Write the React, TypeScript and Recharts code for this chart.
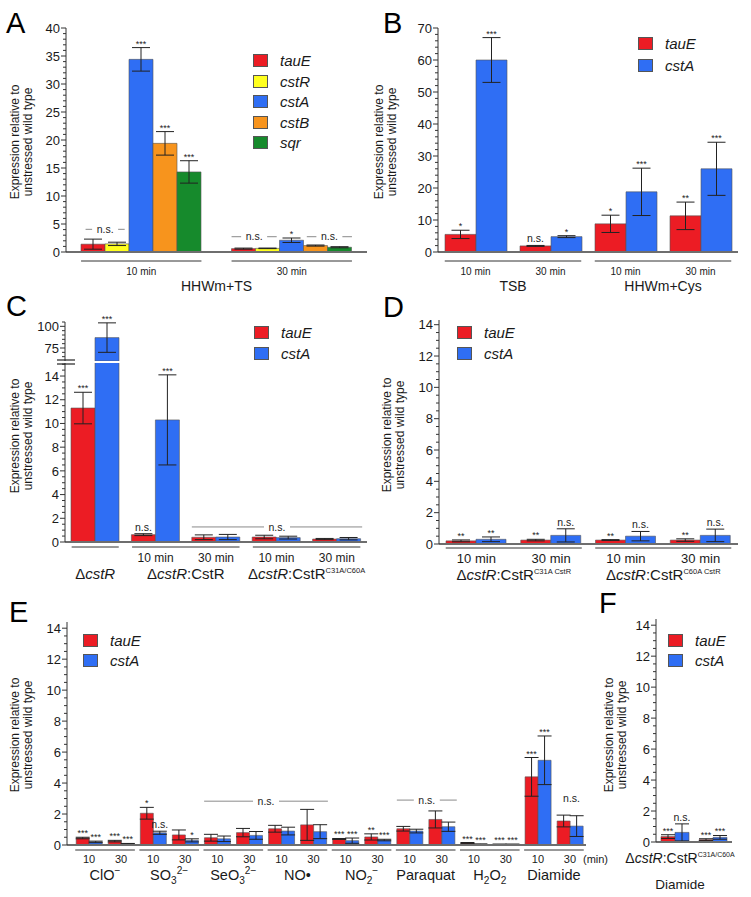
import React from 'react';
import { BarChart, Bar, XAxis, YAxis, ErrorBar, LabelList, Legend, ReferenceLine, Label } from 'recharts';

const FONT = '"Liberation Sans", Arial, Helvetica, sans-serif';
const INK = '#1a1a1a';

const RED = '#ec1c24';
const YELLOW = '#ffff1e';
const BLUE = '#2f6ef4';
const ORANGE = '#f7941d';
const GREEN = '#168a2c';

// ---------- A: HHWm+TS ----------
const aTimes = ['10 min', '30 min'];
const aTauE = [1.4, 0.6];
const aTauEErr = [0.9, 0.1];
const aCstR = [1.45, 0.65];
const aCstRErr = [0.3, 0.05];
const aCstA = [34.4, 2.1];
const aCstAErr = [2.1, 0.4];
const aCstASig = ['***', '*'];
const aCstB = [19.4, 1.15];
const aCstBErr = [2.1, 0.1];
const aCstBSig = ['***', ''];
const aSqr = [14.3, 0.85];
const aSqrErr = [2.0, 0.1];
const aSqrSig = ['***', ''];
const aTicks = [0, 5, 10, 15, 20, 25, 30, 35, 40];

// ---------- B: TSB / HHWm+Cys ----------
const bTimes = ['10 min', '30 min', '10 min', '30 min'];
const bTauE = [5.5, 1.9, 8.8, 11.3];
const bTauEErr = [1.3, 0.15, 2.7, 4.3];
const bTauESig = ['*', 'n.s.', '*', '**'];
const bCstA = [60, 4.8, 18.8, 26];
const bCstAErr = [7, 0.3, 7.4, 8.3];
const bCstASig = ['***', '*', '***', '***'];
const bTicks = [0, 10, 20, 30, 40, 50, 60, 70];

// ---------- C: cstR mutants ----------
const cTimes = ['', '10 min', '30 min', '10 min', '30 min'];
const cTauE = [11.3, 0.62, 0.4, 0.42, 0.25];
const cTauEErr = [1.33, 0.08, 0.2, 0.15, 0.05];
const cTauESig = ['***', 'n.s.', '', '', ''];
const cCstA = [87, 10.3, 0.42, 0.37, 0.28];
const cCstAErr = [17, 3.8, 0.22, 0.12, 0.1];
const cCstASig = ['***', '***', '', '', ''];
const cTicks = [0, 2, 4, 6, 8, 10, 12, 14];
const cTopTicks = [75, 100];

// ---------- D: single Cys mutants ----------
const dTimes = ['10 min', '30 min', '10 min', '30 min'];
const dTauE = [0.2, 0.25, 0.25, 0.25];
const dTauEErr = [0.06, 0.05, 0.03, 0.08];
const dTauESig = ['**', '**', '**', '**'];
const dCstA = [0.3, 0.55, 0.5, 0.55];
const dCstAErr = [0.15, 0.42, 0.3, 0.4];
const dCstASig = ['**', 'n.s.', 'n.s.', 'n.s.'];
const lowTicks = [0, 2, 4, 6, 8, 10, 12, 14];

// ---------- E: other stresses ----------
const eTimes = ['10', '30', '10', '30', '10', '30', '10', '30', '10', '30', '10', '30', '10', '30', '10', '30'];
const eTauE = [0.45, 0.25, 2.05, 0.65, 0.47, 0.8, 1.05, 1.3, 0.39, 0.52, 1.05, 1.65, 0.13, 0.04, 4.4, 1.55];
const eTauEErr = [0.05, 0.05, 0.38, 0.32, 0.22, 0.27, 0.22, 1.0, 0.03, 0.2, 0.15, 0.55, 0.03, 0.02, 1.25, 0.38];
const eTauESig = ['***', '***', '*', '', '', '', '', '', '***', '**', '', '', '***', '***', '***', ''];
const eCstA = [0.2, 0.08, 0.79, 0.3, 0.4, 0.62, 0.9, 0.86, 0.28, 0.32, 0.9, 1.18, 0.05, 0.04, 5.47, 1.22];
const eCstAErr = [0.05, 0.02, 0.1, 0.1, 0.18, 0.25, 0.25, 0.45, 0.17, 0.05, 0.12, 0.3, 0.02, 0.02, 1.57, 0.67];
const eCstASig = ['***', '***', 'n.s.', '*', '', '', '', '', '***', '***', '', '', '***', '***', '***', ''];

// ---------- F: C31A/C60A + diamide ----------
const fTimes = ['', ''];
const fTauE = [0.35, 0.15];
const fTauEErr = [0.12, 0.06];
const fTauESig = ['***', '***'];
const fCstA = [0.62, 0.3];
const fCstAErr = [0.55, 0.12];
const fCstASig = ['n.s.', '***'];

type Seg = { t: string; s?: 'i' | 'sub' | 'sup'; r?: number };
type Series = { key: string; name: string; color: string; values: number[]; errs: number[]; sigs: string[] };
type Span = { start: number; size: number };
type Group = Span & { label: Seg[]; dx?: number; line2?: Seg[]; dy2?: number; size2?: number };
type Note = { x1: number; x2: number; y: number; text: string; line?: boolean };

const none = (n: number) => Array.from({ length: n }, () => '');

const dcstR: Seg[] = [{ t: 'Δ' }, { t: 'cstR', s: 'i' }];
const dcstRCstR: Seg[] = [...dcstR, { t: ':CstR' }];
const supLabel = (t: string): Seg[] => [...dcstRCstR, { t, s: 'sup', r: 0.5 }];

function Rich({ x, y, segs, size }: { x: number; y: number; segs: Seg[]; size: number }) {
  let shift = 0;
  const parts = segs.map((s, k) => {
    const target = s.s === 'sub' ? size * 0.25 : s.s === 'sup' ? -size * 0.4 : 0;
    const dy = target - shift;
    shift = target;
    const small = s.s === 'sub' || s.s === 'sup';
    return (
      <tspan key={k} dy={dy} fontSize={small ? size * (s.r ?? 0.7) : size} fontStyle={s.s === 'i' ? 'italic' : 'normal'}>
        {s.t}
      </tspan>
    );
  });
  return (
    <text x={x} y={y} textAnchor="middle" fontSize={size} fontFamily={FONT} fill={INK}>
      {parts}
    </text>
  );
}

type PanelCfg = {
  box: { left: number; top: number; width: number; height: number };
  plot: { x0: number; x1: number; y0: number; y1: number };
  domain: [number, number];
  major: number[];
  minor: number;
  sub: string[];
  groups: Group[];
  lines: Span[];
  inset: number;
  series: Series[];
  gap: number;
  padL?: number;
  notes?: Note[];
  legend?: { x: number; y: number; row: number };
  title?: { x: number; y: number };
  hideX?: boolean;
  subSize: number;
  groupSize: number;
  subDy: number;
  groupDy: number;
  lineDy: number;
  errW: number;
  after?: string;
  breakAt?: number;
  overOnly?: number;
};

function buildRows(cfg: PanelCfg) {
  const hi = cfg.domain[1];
  return cfg.sub.map((_, i) => {
    const r: any = { cat: `c${i}` };
    cfg.series.forEach((s) => {
      const v = s.values[i];
      const keep = cfg.overOnly !== undefined ? v > cfg.overOnly : v <= hi;
      r[s.key] = cfg.overOnly !== undefined && !keep ? null : v;
      r[`${s.key}_e`] = keep ? s.errs[i] : undefined;
      r[`${s.key}_l`] = keep && s.sigs[i] ? `${s.sigs[i]}|${s.errs[i]}` : undefined;
    });
    return r;
  });
}

function tickList(lo: number, hi: number, step: number) {
  const out: number[] = [];
  for (let v = lo; v <= hi + 1e-9; v += step) out.push(Math.round(v * 1000) / 1000);
  return out;
}

const yTick = (major: number[], axisX: number, breakAt?: number) => (props: any) => {
  const { y, payload } = props;
  const v = payload.value;
  if (breakAt !== undefined && Math.abs(v - breakAt) < 1e-6) {
    return (
      <g>
        <line x1={axisX - 8} x2={axisX + 10} y1={y - 1} y2={y - 1} stroke="#222" strokeWidth={1.2} />
        <line x1={axisX - 8} x2={axisX + 10} y1={y + 3} y2={y + 3} stroke="#222" strokeWidth={1.2} />
      </g>
    );
  }
  const isMajor = major.some((m) => Math.abs(m - v) < 1e-6);
  return (
    <g>
      <line x1={axisX - (isMajor ? 5 : 3)} x2={axisX} y1={y} y2={y} stroke="#333" strokeWidth={1} />
      {isMajor && (
        <text x={axisX - 6} y={y} dy="0.36em" textAnchor="end" fontSize={13} fontFamily={FONT} fill={INK}>
          {v}
        </text>
      )}
    </g>
  );
};

const xTick = (cfg: PanelCfg, catW: number, axisY: number) => (props: any) => {
  const { x, payload } = props;
  const i = Number(String(payload.value).slice(1));
  const out: any[] = [];
  if (cfg.sub[i]) {
    out.push(
      <text key="s" x={x} y={axisY + cfg.subDy} textAnchor="middle" fontSize={cfg.subSize} fontFamily={FONT} fill={INK}>
        {cfg.sub[i]}
      </text>
    );
  }
  cfg.lines
    .filter((l) => l.start === i)
    .forEach((l, k) => {
      const gx0 = x - catW / 2;
      const gx1 = gx0 + l.size * catW;
      out.push(
        <line key={`l${k}`} x1={gx0 + cfg.inset * catW} x2={gx1 - cfg.inset * catW} y1={axisY + cfg.lineDy} y2={axisY + cfg.lineDy} stroke="#333" strokeWidth={1} />
      );
    });
  cfg.groups
    .filter((g) => g.start === i)
    .forEach((g, k) => {
      const cx = x - catW / 2 + (g.size * catW) / 2 + (g.dx ?? 0);
      out.push(<Rich key={`g${k}`} x={cx} y={axisY + cfg.groupDy} segs={g.label} size={cfg.groupSize} />);
      if (g.line2) out.push(<Rich key={`h${k}`} x={cx} y={axisY + (g.dy2 ?? 0)} segs={g.line2} size={g.size2 ?? cfg.groupSize} />);
    });
  if (cfg.after && i === cfg.sub.length - 1) {
    out.push(
      <text key="a" x={x + 13} y={axisY + cfg.subDy} fontSize={cfg.subSize} fontFamily={FONT} fill={INK}>
        {cfg.after}
      </text>
    );
  }
  return <g>{out}</g>;
};

const sigContent = (ppu: number) => (props: any) => {
  const { value } = props;
  if (typeof value !== 'string' || !value) return null;
  const [txt, e] = value.split('|');
  const vb = props.viewBox && props.viewBox.width != null ? props.viewBox : props;
  const x = vb.x + vb.width / 2;
  const top = vb.y - Number(e) * ppu;
  const star = txt.includes('*');
  return (
    <text x={x} y={top - (star ? 1 : 3)} textAnchor="middle" fontSize={star ? 9 : 10.5} fontFamily={FONT} fill="#222">
      {txt}
    </text>
  );
};

const nsContent = (text: string) => (props: any) => {
  const vb = props.viewBox ?? props;
  const cx = (vb.x ?? 0) + (vb.width ?? 0) / 2;
  const cy = vb.y ?? 0;
  const w = text.length * 5 + 6;
  return (
    <g>
      <rect x={cx - w / 2} y={cy - 6} width={w} height={12} fill="#fff" />
      <text x={cx} y={cy} dy="0.35em" textAnchor="middle" fontSize={10.5} fontFamily={FONT} fill="#222">
        {text}
      </text>
    </g>
  );
};

const titleContent = (tx: number, ty: number) => () => (
  <text transform={`translate(${tx},${ty}) rotate(-90)`} textAnchor="middle" fontSize={12} fontFamily={FONT} fill={INK}>
    <tspan x={0} y={0}>Expression relative to</tspan>
    <tspan x={0} y={13}>unstressed wild type</tspan>
  </text>
);

const legendContent = (series: Series[], row: number) => (props: any) => {
  const payload: any[] = props.payload ?? [];
  return (
    <div style={{ fontFamily: FONT }}>
      {series.map((s) => {
        const p = payload.find((q) => q.value === s.name);
        return (
          <div key={s.key} style={{ display: 'flex', alignItems: 'center', height: row }}>
            <span
              style={{
                display: 'inline-block',
                width: 15,
                height: 13,
                background: p?.color ?? s.color,
                border: '1px solid #555',
                boxSizing: 'border-box',
                marginRight: 12,
              }}
            />
            <span style={{ fontStyle: 'italic', fontSize: 15, color: INK }}>{p?.value ?? s.name}</span>
          </div>
        );
      })}
    </div>
  );
};

function Panel({ cfg }: { cfg: PanelCfg }) {
  const { box, plot } = cfg;
  const [lo, hi] = cfg.domain;
  const ppu = (plot.y1 - plot.y0) / (hi - lo);
  const padL = cfg.padL ?? 0;
  const n = cfg.sub.length;
  const catW = (plot.x1 - plot.x0 - padL) / n;
  const axisX = plot.x0 - box.left;
  const axisY = plot.y1 - box.top;
  const xH = cfg.hideX ? 0 : 40;
  const margin = {
    top: plot.y0 - box.top,
    left: 0,
    right: box.left + box.width - plot.x1,
    bottom: box.top + box.height - plot.y1 - xH,
  };
  const rows = buildRows(cfg);
  const ticks = tickList(lo, hi, cfg.minor);
  // the hidden numeric x axis spans the category indices 0..n-1 across the plot width
  const toIdx = (u: number) => (u * (n - 1)) / n;
  return (
    <div style={{ position: 'absolute', left: box.left, top: box.top }}>
      <BarChart width={box.width} height={box.height} data={rows} margin={margin} barGap={0} barCategoryGap={cfg.gap}>
        <XAxis
          dataKey="cat"
          hide={cfg.hideX}
          height={40}
          interval={0}
          tickLine={false}
          axisLine={{ stroke: '#6e6e6e', strokeWidth: 2 }}
          tick={xTick(cfg, catW, axisY)}
          padding={{ left: padL, right: 0 }}
        />
        <XAxis xAxisId="u" type="number" domain={[0, n - 1]} hide allowDataOverflow padding={{ left: padL, right: 0 }} />
        <YAxis
          type="number"
          width={axisX}
          domain={cfg.domain}
          ticks={ticks}
          interval={0}
          allowDataOverflow
          tickLine={false}
          axisLine={{ stroke: '#333' }}
          tick={yTick(cfg.major, axisX, cfg.breakAt)}
          label={cfg.title ? <Label content={titleContent(cfg.title.x - box.left, cfg.title.y - box.top)} /> : undefined}
        />
        {cfg.series.map((s) => (
          <Bar key={s.key} dataKey={s.key} name={s.name} fill={s.color} stroke="#555" strokeWidth={0.6} isAnimationActive={false}>
            <ErrorBar dataKey={`${s.key}_e`} width={cfg.errW} stroke="#222" strokeWidth={1} direction="y" />
            <LabelList dataKey={`${s.key}_l`} content={sigContent(ppu)} />
          </Bar>
        ))}
        {(cfg.notes ?? []).map((nt, k) => (
          <ReferenceLine
            key={`n${k}`}
            xAxisId="u"
            segment={[
              { x: toIdx(nt.x1), y: nt.y },
              { x: toIdx(nt.x2), y: nt.y },
            ]}
            stroke={nt.line === false ? 'none' : '#8a8a8a'}
            strokeWidth={1}
            ifOverflow="visible"
            label={<Label content={nsContent(nt.text)} />}
          />
        ))}
        {cfg.legend && (
          <Legend
            layout="vertical"
            align="center"
            verticalAlign="middle"
            content={legendContent(cfg.series, cfg.legend.row)}
            wrapperStyle={{ left: cfg.legend.x - box.left, top: cfg.legend.y - box.top, width: 110 }}
          />
        )}
      </BarChart>
    </div>
  );
}

const twoGenes = (tv: number[], te: number[], ts: string[], cv: number[], ce: number[], cs: string[]): Series[] => [
  { key: 'tauE', name: 'tauE', color: RED, values: tv, errs: te, sigs: ts },
  { key: 'cstA', name: 'cstA', color: BLUE, values: cv, errs: ce, sigs: cs },
];

const panelA: PanelCfg = {
  box: { left: 0, top: 0, width: 375, height: 300 },
  plot: { x0: 66, x1: 367, y0: 28, y1: 252 },
  domain: [0, 40],
  major: aTicks,
  minor: 1,
  sub: aTimes,
  groups: [{ start: 0, size: 2, label: [{ t: 'HHWm+TS' }] }],
  lines: [
    { start: 0, size: 1 },
    { start: 1, size: 1 },
  ],
  inset: 0.1,
  gap: 15,
  series: [
    { key: 'tauE', name: 'tauE', color: RED, values: aTauE, errs: aTauEErr, sigs: none(2) },
    { key: 'cstR', name: 'cstR', color: YELLOW, values: aCstR, errs: aCstRErr, sigs: none(2) },
    { key: 'cstA', name: 'cstA', color: BLUE, values: aCstA, errs: aCstAErr, sigs: aCstASig },
    { key: 'cstB', name: 'cstB', color: ORANGE, values: aCstB, errs: aCstBErr, sigs: aCstBSig },
    { key: 'sqr', name: 'sqr', color: GREEN, values: aSqr, errs: aSqrErr, sigs: aSqrSig },
  ],
  notes: [
    { x1: 0.13, x2: 0.39, y: 4.05, text: 'n.s.' },
    { x1: 1.1, x2: 1.4, y: 2.73, text: 'n.s.' },
    { x1: 1.6, x2: 1.9, y: 2.73, text: 'n.s.' },
  ],
  legend: { x: 253, y: 50.5, row: 20.5 },
  title: { x: 19, y: 142 },
  subSize: 10,
  groupSize: 14,
  subDy: 23,
  groupDy: 39,
  lineDy: 9,
  errW: 9,
};

const panelB: PanelCfg = {
  box: { left: 372, top: 0, width: 379, height: 300 },
  plot: { x0: 438, x1: 738, y0: 28, y1: 252 },
  domain: [0, 70],
  major: bTicks,
  minor: 2,
  sub: bTimes,
  groups: [
    { start: 0, size: 2, label: [{ t: 'TSB' }] },
    { start: 2, size: 2, label: [{ t: 'HHWm+Cys' }] },
  ],
  lines: [
    { start: 0, size: 2 },
    { start: 2, size: 2 },
  ],
  inset: 0.09,
  gap: 7,
  series: twoGenes(bTauE, bTauEErr, bTauESig, bCstA, bCstAErr, bCstASig),
  legend: { x: 638, y: 32, row: 22 },
  title: { x: 383, y: 142 },
  subSize: 10,
  groupSize: 14,
  subDy: 23,
  groupDy: 39,
  lineDy: 9,
  errW: 9,
};

const cGroups: Group[] = [
  { start: 0, size: 1, label: dcstR },
  { start: 1, size: 2, label: dcstRCstR },
  { start: 3, size: 2, label: supLabel('C31A/C60A') },
];

const panelC: PanelCfg = {
  box: { left: 0, top: 300, width: 375, height: 282 },
  plot: { x0: 65, x1: 367, y0: 363, y1: 542 },
  domain: [0, 15.1],
  major: cTicks,
  minor: 0.5,
  sub: cTimes,
  groups: cGroups,
  lines: cGroups.map((g) => ({ start: g.start, size: g.size })),
  inset: 0.11,
  gap: 6,
  series: twoGenes(cTauE, cTauEErr, cTauESig, cCstA, cCstAErr, cCstASig),
  notes: [{ x1: 2.1, x2: 4.92, y: 1.27, text: 'n.s.' }],
  legend: { x: 254, y: 321.5, row: 21 },
  title: { x: 19, y: 436 },
  subSize: 12,
  groupSize: 15,
  subDy: 20,
  groupDy: 37,
  lineDy: 5,
  errW: 9,
};

const panelCTop: PanelCfg = {
  ...panelC,
  box: { left: 0, top: 300, width: 375, height: 70 },
  plot: { x0: 65, x1: 367, y0: 322, y1: 361 },
  domain: [60, 105],
  major: cTopTicks,
  minor: 5,
  notes: [],
  legend: undefined,
  title: undefined,
  hideX: true,
  breakAt: 60,
  overOnly: 15.1,
};

const panelD: PanelCfg = {
  box: { left: 372, top: 300, width: 379, height: 282 },
  plot: { x0: 439, x1: 738, y0: 320, y1: 544 },
  domain: [0, 14.3],
  major: lowTicks,
  minor: 0.5,
  sub: dTimes,
  groups: [
    { start: 0, size: 2, label: supLabel('C31A CstR') },
    { start: 2, size: 2, label: supLabel('C60A CstR') },
  ],
  lines: [
    { start: 0, size: 2 },
    { start: 2, size: 2 },
  ],
  inset: 0.09,
  gap: 7,
  series: twoGenes(dTauE, dTauEErr, dTauESig, dCstA, dCstAErr, dCstASig),
  legend: { x: 457, y: 321.5, row: 21 },
  title: { x: 391, y: 435 },
  subSize: 13,
  groupSize: 15,
  subDy: 19,
  groupDy: 36,
  lineDy: 4,
  errW: 9,
};

const eLabels: Seg[][] = [
  [{ t: 'ClO' }, { t: '−', s: 'sup' }],
  [{ t: 'SO' }, { t: '3', s: 'sub' }, { t: '2−', s: 'sup' }],
  [{ t: 'SeO' }, { t: '3', s: 'sub' }, { t: '2−', s: 'sup' }],
  [{ t: 'NO•' }],
  [{ t: 'NO' }, { t: '2', s: 'sub' }, { t: '−', s: 'sup' }],
  [{ t: 'Paraquat' }],
  [{ t: 'H' }, { t: '2', s: 'sub' }, { t: 'O' }, { t: '2', s: 'sub' }],
  [{ t: 'Diamide' }],
];

const panelE: PanelCfg = {
  box: { left: 0, top: 590, width: 615, height: 307 },
  plot: { x0: 67, x1: 586, y0: 622, y1: 845 },
  domain: [0, 14.4],
  major: lowTicks,
  minor: 0.5,
  sub: eTimes,
  groups: eLabels.map((label, g) => ({ start: g * 2, size: 2, label })),
  lines: eLabels.map((_, g) => ({ start: g * 2, size: 2 })),
  inset: 0.07,
  gap: 3.2,
  padL: 6,
  series: twoGenes(eTauE, eTauEErr, eTauESig, eCstA, eCstAErr, eCstASig),
  notes: [
    { x1: 4.09, x2: 7.95, y: 2.83, text: 'n.s.' },
    { x1: 10.1, x2: 11.97, y: 2.9, text: 'n.s.' },
    { x1: 15.3, x2: 15.8, y: 3.0, text: 'n.s.', line: false },
  ],
  legend: { x: 83, y: 630, row: 20 },
  title: { x: 19, y: 735 },
  subSize: 11,
  groupSize: 14.5,
  subDy: 18,
  groupDy: 35,
  lineDy: 5,
  errW: 7,
  after: '(min)',
};

const panelF: PanelCfg = {
  box: { left: 598, top: 590, width: 153, height: 307 },
  plot: { x0: 656, x1: 732, y0: 619, y1: 842 },
  domain: [0, 14.4],
  major: lowTicks,
  minor: 0.5,
  sub: fTimes,
  groups: [{ start: 0, size: 2, label: supLabel('C31A/C60A'), dx: -14, line2: [{ t: 'Diamide' }], dy2: 47, size2: 13.5 }],
  lines: [],
  inset: 0,
  gap: 5,
  series: twoGenes(fTauE, fTauEErr, fTauESig, fCstA, fCstAErr, fCstASig),
  legend: { x: 668, y: 630, row: 20 },
  title: { x: 613, y: 735 },
  subSize: 11,
  groupSize: 14,
  subDy: 18,
  groupDy: 20.5,
  lineDy: 5,
  errW: 7,
};

const letters = [
  { t: 'A', x: 6, y: 33 },
  { t: 'B', x: 383, y: 33 },
  { t: 'C', x: 6, y: 316 },
  { t: 'D', x: 383, y: 317 },
  { t: 'E', x: 9, y: 622 },
  { t: 'F', x: 599, y: 613 },
];

export default function App() {
  return (
    <div style={{ position: 'absolute', left: 0, top: 0, width: 751, height: 897, background: '#fff', fontFamily: FONT }}>
      <Panel cfg={panelA} />
      <Panel cfg={panelB} />
      <Panel cfg={panelC} />
      <Panel cfg={panelCTop} />
      <Panel cfg={panelD} />
      <Panel cfg={panelE} />
      <Panel cfg={panelF} />
      <svg width={751} height={897} style={{ position: 'absolute', left: 0, top: 0, pointerEvents: 'none' }}>
        {letters.map((l) => (
          <text key={l.t} x={l.x} y={l.y} fontSize={29} fontFamily={FONT} fill="#000">
            {l.t}
          </text>
        ))}
      </svg>
    </div>
  );
}
